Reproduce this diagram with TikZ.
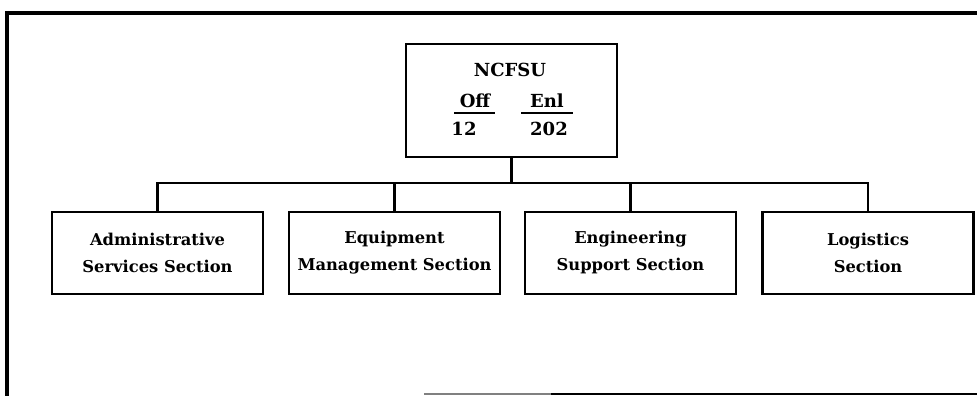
\documentclass[tikz,border=0pt]{standalone}
\usepackage{fontspec}
\setmainfont{DejaVu Serif}
\begin{document}
\begin{tikzpicture}[x=1pt,y=-1pt,
  box/.style={draw,line width=2.4pt,minimum width=211pt,minimum height=82pt,inner sep=0pt,align=center,font=\fontsize{16.3}{27}\selectfont\bfseries},
  conn/.style={line width=2.4pt},
  lbl/.style={inner sep=0pt,font=\fontsize{18}{20}\selectfont\bfseries}]
\useasboundingbox (0,0) rectangle (977,396);
% outer frame
\draw[line width=4.5pt] (5,13) -- (977,13);
\draw[line width=3.5pt] (7,11) -- (7,396);
\draw[line width=2.5pt,gray] (424,394) -- (551,394);
\draw[line width=2.5pt] (551,394) -- (977,394);
% top box
\node[draw,line width=2.4pt,minimum width=211pt,minimum height=113pt] (top) at (511.5,100.5) {};
\node[lbl] (name) at (510,70) {NCFSU};
\node[lbl] (off) at (475,101) {Off};
\node[lbl] (enl) at (547,101) {Enl};
\draw[line width=2pt] (454,113) -- (495,113);
\draw[line width=2pt] (521,113) -- (573,113);
\node[lbl] (n12) at (464,129) {12};
\node[lbl] (n202) at (549,129) {202};
% children
\node[box] (a) at (157.5,253) {Administrative\\Services Section};
\node[box] (b) at (394.5,253) {Equipment\\Management Section};
\node[box] (c) at (630.5,253) {Engineering\\Support Section};
\node[box] (d) at (868,253) {Logistics\\Section};
\coordinate (bus) at (513,183);
\draw[conn] (top.south) -- (top.south |- bus);
\draw[conn] (a.north) -- (a.north |- bus) -- (d.north |- bus) -- (d.north);
\draw[conn] (b.north) -- (b.north |- bus);
\draw[conn] (c.north) -- (c.north |- bus);
\end{tikzpicture}
\end{document}
